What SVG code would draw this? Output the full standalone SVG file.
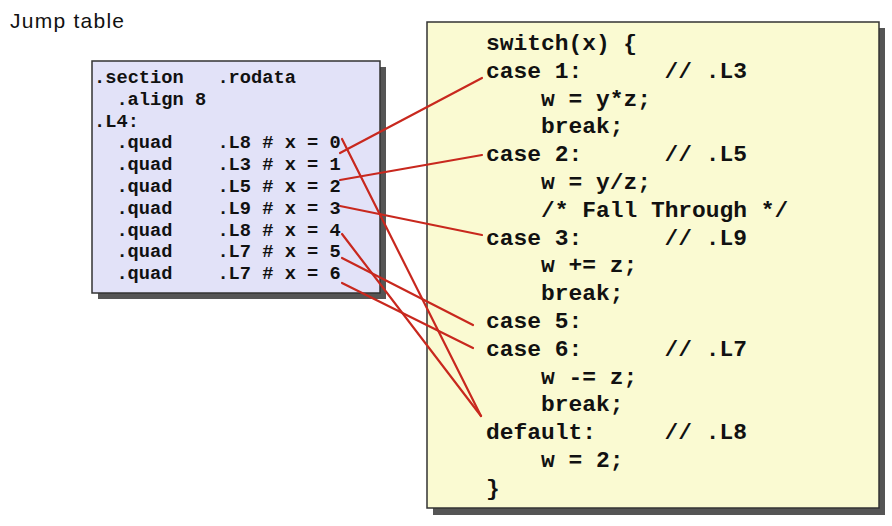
<svg xmlns="http://www.w3.org/2000/svg" width="892" height="526" viewBox="0 0 892 526">
<style>
.title{font-family:"Liberation Sans","Open Sans",sans-serif;font-size:21px;fill:#111}
.asm{font-family:"Liberation Mono","DejaVu Sans Mono",monospace;font-size:18.7px;font-weight:bold;fill:#111}
.c{font-family:"Liberation Mono","DejaVu Sans Mono",monospace;font-size:22.9px;font-weight:bold;fill:#111}
.shadow{fill:#555}
.box{stroke:#333;stroke-width:1.5}
.conn line{stroke:#c8281e;stroke-width:2.2;stroke-linecap:round}
</style>
<rect width="892" height="526" fill="#fff"/>
<text class="title" x="10" y="28" textLength="114">Jump table</text>
<g id="jump-table">
<rect class="shadow" x="98" y="67" width="288" height="232"/>
<rect class="box" x="92" y="61" width="288" height="232" fill="#e2e2f8"/>
<g class="asm">
<text x="94" y="83">.section<tspan x="217.4">.rodata</tspan></text>
<text x="116.4" y="104.8">.align 8</text>
<text x="94" y="126.6">.L4:</text>
<text x="116.4" y="148.4">.quad<tspan x="217.4">.L8 # x = 0</tspan></text>
<text x="116.4" y="170.2">.quad<tspan x="217.4">.L3 # x = 1</tspan></text>
<text x="116.4" y="192">.quad<tspan x="217.4">.L5 # x = 2</tspan></text>
<text x="116.4" y="213.8">.quad<tspan x="217.4">.L9 # x = 3</tspan></text>
<text x="116.4" y="235.6">.quad<tspan x="217.4">.L8 # x = 4</tspan></text>
<text x="116.4" y="257.4">.quad<tspan x="217.4">.L7 # x = 5</tspan></text>
<text x="116.4" y="279.2">.quad<tspan x="217.4">.L7 # x = 6</tspan></text>
</g>
</g>
<g id="switch-code">
<rect class="shadow" x="433" y="28" width="452" height="487"/>
<rect class="box" x="427" y="22" width="452" height="486" fill="#fafad2"/>
<g class="c">
<text x="486" y="50">switch(x) {</text>
<text x="486" y="77.8">case 1:<tspan x="664.6">// .L3</tspan></text>
<text x="541" y="105.6">w = y*z;</text>
<text x="541" y="133.4">break;</text>
<text x="486" y="161.2">case 2:<tspan x="664.6">// .L5</tspan></text>
<text x="541" y="189">w = y/z;</text>
<text x="541" y="216.8">/* Fall Through */</text>
<text x="486" y="244.6">case 3:<tspan x="664.6">// .L9</tspan></text>
<text x="541" y="272.4">w += z;</text>
<text x="541" y="300.2">break;</text>
<text x="486" y="328">case 5:</text>
<text x="486" y="355.8">case 6:<tspan x="664.6">// .L7</tspan></text>
<text x="541" y="383.6">w -= z;</text>
<text x="541" y="411.4">break;</text>
<text x="486" y="439.2">default:<tspan x="664.6">// .L8</tspan></text>
<text x="541" y="467">w = 2;</text>
<text x="486" y="494.8">}</text>
</g>
</g>
<g id="connectors" class="conn">
<line x1="342" y1="139" x2="481" y2="416"/>
<line x1="340" y1="153" x2="482" y2="78"/>
<line x1="340" y1="180" x2="482" y2="155"/>
<line x1="340" y1="206" x2="482" y2="235"/>
<line x1="342" y1="234" x2="481" y2="416"/>
<line x1="342" y1="258" x2="473" y2="325"/>
<line x1="342" y1="283" x2="473" y2="348"/>
</g>
</svg>
